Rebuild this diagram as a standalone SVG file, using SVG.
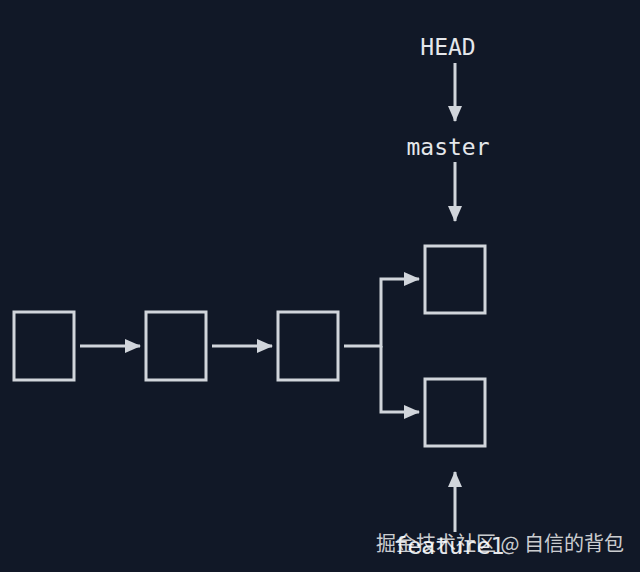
<svg xmlns="http://www.w3.org/2000/svg" width="640" height="572" viewBox="0 0 640 572">
<style>
.bg{fill:#111827}
.box{fill:none;stroke:#d1d5db;stroke-width:3}
.ln{fill:none;stroke:#d1d5db;stroke-width:3}
.lbl{font-family:"DejaVu Sans Mono","Liberation Mono",monospace;font-size:23px;fill:#e5e7eb;text-anchor:middle}
.wm{font-family:"Noto Sans CJK SC","Noto Sans",sans-serif;font-size:20px;fill:#ffffff;fill-opacity:0.8}
</style>
<defs>
<marker id="ah" viewBox="0 0 16 14" refX="15" refY="7" markerWidth="16" markerHeight="14" markerUnits="userSpaceOnUse" orient="auto">
<path d="M0,0 L16,7 L0,14 Z" fill="#d1d5db"/>
</marker>
</defs>
<rect class="bg" x="0" y="0" width="640" height="572"/>
<g id="c1"><rect class="box" x="14" y="312" width="60" height="68"/></g>
<g id="c2"><rect class="box" x="146" y="312" width="60" height="68"/></g>
<g id="c3"><rect class="box" x="278" y="312" width="60" height="68"/></g>
<g id="c4"><rect class="box" x="425" y="246" width="60" height="67"/></g>
<g id="c5"><rect class="box" x="425" y="379" width="60" height="67"/></g>
<g id="head"><text class="lbl" x="448" y="55">HEAD</text></g>
<g id="master"><text class="lbl" x="448" y="155">master</text></g>
<g id="feature1"><text class="lbl" x="449" y="554">feature1</text></g>
<g id="connectors">
<line class="ln" x1="80" y1="346" x2="140" y2="346" marker-end="url(#ah)"/>
<line class="ln" x1="212" y1="346" x2="272" y2="346" marker-end="url(#ah)"/>
<polyline class="ln" points="344,346 381,346 381,279 419,279" marker-end="url(#ah)"/>
<polyline class="ln" points="381,346 381,412 419,412" marker-end="url(#ah)"/>
<line class="ln" x1="455" y1="63" x2="455" y2="121" marker-end="url(#ah)"/>
<line class="ln" x1="455" y1="162" x2="455" y2="221" marker-end="url(#ah)"/>
<line class="ln" x1="455" y1="532" x2="455" y2="472" marker-end="url(#ah)"/>
</g>
<text class="wm" x="376" y="551">掘金技术社区 @ 自信的背包</text>
</svg>
